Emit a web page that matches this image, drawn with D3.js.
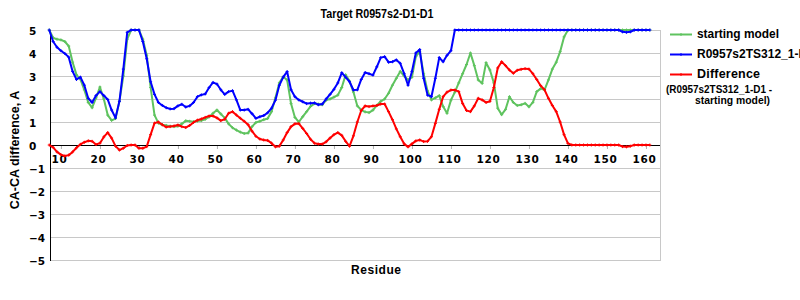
<!DOCTYPE html>
<html><head><meta charset="utf-8">
<script src="https://cdn.jsdelivr.net/npm/d3@7"></script>
<style>body{margin:0;background:#fff}svg{display:block}</style>
</head><body>
<svg id="c" width="800" height="300"></svg>
<script>
const firstResidue = 7, lastResidue = 161;
const residues = d3.range(firstResidue, lastResidue + 1);
const xTicks = [10,20,30,40,50,60,70,80,90,100,110,120,130,140,150,160];
const yTicks = [5,4,3,2,1,0,-1,-2,-3,-4,-5];

const modelValues = [
 5.0,4.5,4.25,4.1,3.98,3.82,3.2,2.85,2.95,2.6,
 2.03,1.85,2.15,2.32,2.15,1.98,1.52,1.18,1.9,3.3,
 4.9,5.0,5.0,5.0,4.5,3.75,2.75,2.2,1.85,1.72,
 1.62,1.57,1.58,1.7,1.77,1.65,1.7,1.85,2.1,2.18,
 2.22,2.5,2.72,2.65,2.4,2.2,2.32,2.36,1.96,1.52,
 1.52,1.55,1.36,1.16,1.23,1.28,1.4,1.6,1.95,2.6,
 2.95,3.19,2.4,2.1,1.96,1.88,1.8,1.82,1.83,1.75,
 1.78,2.0,2.2,2.42,2.7,3.14,2.95,2.75,2.39,2.4,
 2.85,3.15,3.1,3.04,3.4,3.8,3.84,3.6,3.62,3.7,
 3.55,3.1,2.6,3.2,4.0,4.15,2.9,2.17,2.1,2.9,
 3.8,3.62,3.9,4.1,5,5,5,5,5,5,
 5,5,5,5,5,5,5,5,5,5,
 5,5,5,5,5,5,5,5,5,5,
 5,5,5,5,5,5,5,5,5,5,
 5,5,5,5,5,5,5,4.92,4.9,4.92,
 5,5,5,5,5
];
const startingValues = [
 5.0,4.66,4.6,4.57,4.5,4.3,3.6,3.05,2.85,2.4,
 1.85,1.62,2.05,2.52,2.0,1.3,1.07,1.15,1.9,3.0,
 4.6,5.0,5.0,5.0,4.6,3.9,2.5,1.3,0.95,0.88,
 0.85,0.82,0.8,0.82,0.92,1.05,1.03,1.01,1.04,1.06,
 1.12,1.22,1.38,1.52,1.35,1.18,0.92,0.75,0.65,0.56,
 0.5,0.52,0.8,0.98,1.03,1.1,1.15,1.45,2.05,2.7,
 2.97,2.83,1.8,1.2,1.0,1.23,1.45,1.68,1.8,1.78,
 1.75,1.95,2.0,2.08,2.17,2.5,3.05,2.78,2.3,1.7,
 1.52,1.44,1.41,1.52,1.72,1.9,2.0,2.25,2.6,2.9,
 3.2,3.0,2.83,2.95,3.85,4.06,3.1,2.35,1.96,2.05,
 2.15,1.67,1.38,1.95,2.3,2.7,3.1,3.5,4.0,3.45,
 2.83,2.68,3.58,3.26,2.7,1.6,1.32,1.55,2.1,1.85,
 1.72,1.75,1.81,1.66,1.85,2.32,2.45,2.4,2.83,3.3,
 3.6,4.06,4.7,5,5,5,5,5,5,5,
 5,5,5,5,5,5,5,5,5,5,
 5,5,5,5,5
];
const differenceValues = [
 0,-0.1,-0.3,-0.42,-0.48,-0.44,-0.3,-0.12,0.03,0.12,
 0.18,0.16,0.02,0.08,0.35,0.54,0.3,-0.05,-0.22,-0.14,
 -0.02,0,0,-0.14,-0.14,-0.07,0.45,0.95,1.0,0.88,
 0.78,0.8,0.83,0.87,0.8,0.76,0.85,0.98,1.08,1.13,
 1.2,1.26,1.26,1.18,1.06,1.12,1.38,1.45,1.3,1.16,
 1.03,0.88,0.6,0.38,0.26,0.22,0.2,0.08,-0.08,-0.05,
 0.22,0.54,0.8,0.92,0.93,0.72,0.5,0.25,0.08,0.04,
 0.04,0.14,0.3,0.45,0.54,0.42,0.16,-0.05,0.4,1.0,
 1.5,1.7,1.67,1.7,1.72,1.78,1.78,1.45,1.1,0.7,
 0.36,0.05,-0.08,0.05,0.18,0.22,0.15,0.16,0.36,0.94,
 1.55,2.1,2.3,2.39,2.39,2.32,1.8,1.5,1.45,1.7,
 2.03,1.96,1.85,1.9,2.5,3.35,3.62,3.45,3.26,3.12,
 3.25,3.29,3.32,3.3,3.1,2.85,2.58,2.4,2.03,1.72,
 1.45,1.0,0.45,0.07,0,0,0,0,0,0,
 0,0,0,0,0,0,0,-0.07,-0.08,-0.05,
 0,0,0,0,0
];

const seriesNames = ["starting model", "R0957s2TS312_1-D1", "Difference"];
const seriesColors = ["#5fc35f", "#0000ff", "#ff0000"];
const seriesData = [startingValues, modelValues, differenceValues];

const svg = d3.select("#c");
const L = 50, R = 660, T = 30, B = 260;
const x = d3.scaleLinear().domain([7.2, 163.6]).range([L, R]);
const y = d3.scaleLinear().domain([-5, 5]).range([B, T]);

// gridlines
svg.append("g").selectAll("line").data(yTicks).join("line")
  .attr("x1", L).attr("x2", R)
  .attr("y1", d => y(d) + 0.5).attr("y2", d => y(d) + 0.5)
  .attr("stroke", "#c8c8c8").attr("stroke-width", 1);
// right border
svg.append("line").attr("x1", R + 0.5).attr("x2", R + 0.5).attr("y1", T).attr("y2", B + 1)
  .attr("stroke", "#c8c8c8");

// x ticks on zero line
const xAxis = d3.axisBottom(x).tickValues(xTicks).tickSize(4).tickFormat("");
const gx = svg.append("g").attr("transform", `translate(0,${y(0)})`).call(xAxis);
gx.select(".domain").remove();
gx.selectAll(".tick line").attr("stroke", "#b0b0b0");
// zero line
svg.append("line").attr("x1", L).attr("x2", R).attr("y1", y(0) + 0.5).attr("y2", y(0) + 0.5)
  .attr("stroke", "#000");
// y axis line
svg.append("line").attr("x1", L + 0.5).attr("x2", L + 0.5).attr("y1", T).attr("y2", B + 1)
  .attr("stroke", "#000");

// x tick labels
svg.append("g").selectAll("text").data(xTicks).join("text")
  .attr("x", d => x(d) - 1.5).attr("y", y(0) + 18)
  .attr("text-anchor", "middle")
  .attr("font-family", "DejaVu Sans").attr("font-weight", "bold")
  .attr("font-size", "10.5px").attr("letter-spacing", "0.6px")
  .text(d => d);
// y tick labels
svg.append("g").selectAll("text").data(yTicks).join("text")
  .attr("x", 29).attr("y", d => y(d) + 5)
  .attr("font-family", "DejaVu Sans").attr("font-weight", "bold")
  .attr("font-size", "10.5px")
  .text(d => d < 0 ? "\u2212" + Math.abs(d) : d);

// series
const line = d3.line().x((d, i) => x(residues[i])).y(d => y(d));
seriesData.forEach((vals, k) => {
  svg.append("path").datum(vals).attr("d", line)
    .attr("fill", "none").attr("stroke", seriesColors[k]).attr("stroke-width", 2)
    .attr("stroke-linejoin", "round");
  svg.append("g").selectAll("path").data(vals).join("path")
    .attr("d", (d, i) => {
      const px = x(residues[i]), py = y(d);
      return `M${px-1.5},${py}H${px+1.5}M${px},${py-1.5}V${py+1.5}`;
    })
    .attr("stroke", seriesColors[k]).attr("stroke-width", 1);
});

// title
svg.append("text").attr("x", 377).attr("y", 18).attr("text-anchor", "middle")
  .attr("font-family", "Liberation Sans, Arial").attr("font-weight", "bold").attr("font-size", "12px")
  .attr("textLength", 113).attr("lengthAdjust", "spacingAndGlyphs")
  .text("Target R0957s2-D1-D1");
// x title
svg.append("text").attr("x", 376).attr("y", 274).attr("text-anchor", "middle")
  .attr("font-family", "Liberation Sans, Arial").attr("font-weight", "bold").attr("font-size", "12px")
  .attr("textLength", 50).attr("lengthAdjust", "spacing")
  .text("Residue");
// y title
svg.append("text").attr("transform", "translate(19,150) rotate(-90)").attr("text-anchor", "middle")
  .attr("font-family", "Liberation Sans, Arial").attr("font-weight", "bold").attr("font-size", "12.5px")
  .text("CA-CA difference, A");

// legend
const legY = [34, 54, 74];
seriesNames.forEach((name, k) => {
  const g = svg.append("g");
  g.append("line").attr("x1", 670).attr("x2", 692).attr("y1", legY[k] + 0.5).attr("y2", legY[k] + 0.5)
    .attr("stroke", seriesColors[k]).attr("stroke-width", 2);
  g.append("path").attr("d", `M681,${legY[k]-1}V${legY[k]+2}`).attr("stroke", seriesColors[k]);
  const t = g.append("text").attr("x", 697).attr("y", legY[k] + 4)
    .attr("font-family", "Liberation Sans, Arial").attr("font-weight", "bold")
    .attr("font-size", k === 2 ? "12.5px" : "12px")
    .text(name);
  if (k === 0) t.attr("textLength", 82).attr("lengthAdjust", "spacingAndGlyphs");
  if (k === 2) t.attr("textLength", 63).attr("lengthAdjust", "spacing");
});
svg.append("text").attr("x", 666).attr("y", 93)
  .attr("font-family", "Liberation Sans, Arial").attr("font-weight", "bold").attr("font-size", "10px")
  .attr("textLength", 106).attr("lengthAdjust", "spacingAndGlyphs")
  .text("(R0957s2TS312_1-D1 -");
svg.append("text").attr("x", 695).attr("y", 104)
  .attr("font-family", "Liberation Sans, Arial").attr("font-weight", "bold").attr("font-size", "10px")
  .attr("textLength", 75).attr("lengthAdjust", "spacingAndGlyphs")
  .text("starting model)");
</script>
</body></html>
